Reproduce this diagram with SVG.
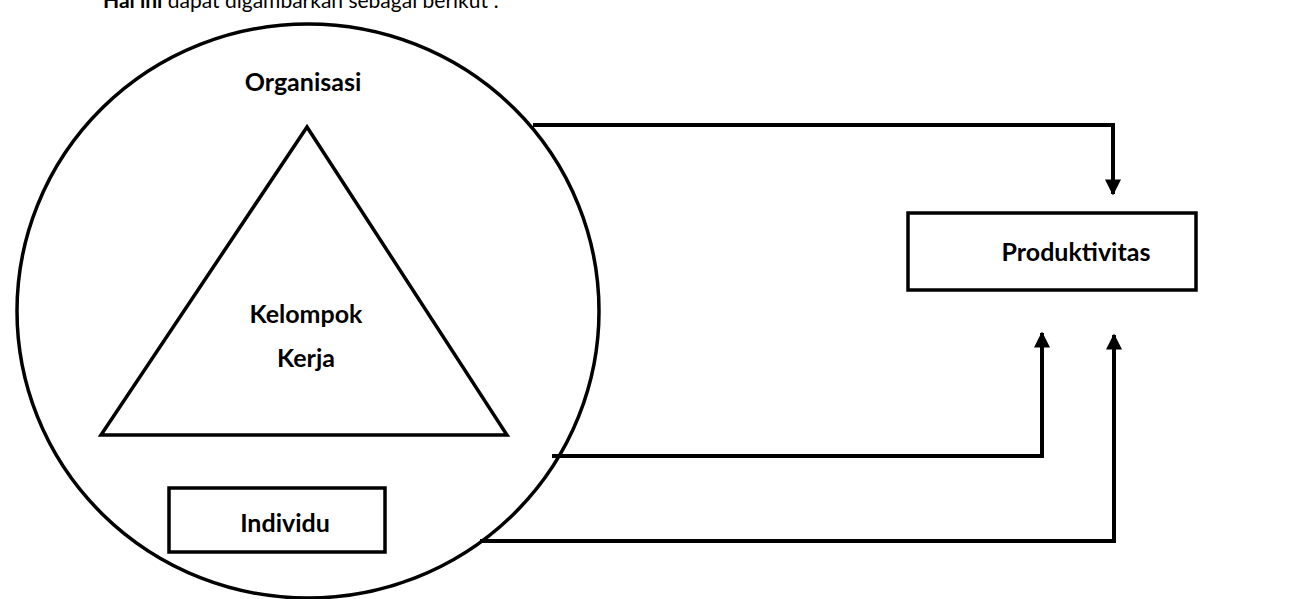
<svg xmlns="http://www.w3.org/2000/svg" width="1296" height="599" viewBox="0 0 1296 599">
<style>
.shape{fill:none;stroke:#000;stroke-width:3.5}
.conn{fill:none;stroke:#000;stroke-width:4}
.lbl{font-family:Lato,"Open Sans","Liberation Sans",sans-serif;font-weight:bold;font-size:25px;fill:#000;text-anchor:middle}
.hdr{font-family:Lato,"Liberation Sans",sans-serif;font-size:21px;fill:#000}
</style>
<defs>
<marker id="arr" viewBox="0 0 10 10" refX="9" refY="5" markerWidth="4.5" markerHeight="4" orient="auto" markerUnits="strokeWidth">
<path d="M0,0 L10,5 L0,10 z" fill="#000"/>
</marker>
</defs>
<rect width="1296" height="599" fill="#fff"/>
<text class="hdr" x="103" y="8"><tspan font-weight="bold">Hal ini</tspan> dapat digambarkan sebagai berikut :</text>
<g id="organisasi">
<ellipse class="shape" cx="308" cy="311" rx="291" ry="287"/>
<text class="lbl" x="303" y="91">Organisasi</text>
</g>
<g id="kelompok-kerja">
<polygon class="shape" points="307,127 101,435 507,435"/>
<text class="lbl" x="306" y="323">Kelompok</text>
<text class="lbl" x="306" y="367">Kerja</text>
</g>
<g id="individu">
<rect class="shape" x="169" y="488" width="216" height="64"/>
<text class="lbl" x="285" y="532">Individu</text>
</g>
<g id="produktivitas">
<rect class="shape" x="908" y="213" width="288" height="77"/>
<text class="lbl" x="1076" y="261">Produktivitas</text>
</g>
<g id="connectors">
<polyline class="conn" points="533,125 1113,125 1113,194" marker-end="url(#arr)"/>
<polyline class="conn" points="552,456 1042,456 1042,333" marker-end="url(#arr)"/>
<polyline class="conn" points="480,541 1114,541 1114,335" marker-end="url(#arr)"/>
</g>
</svg>
